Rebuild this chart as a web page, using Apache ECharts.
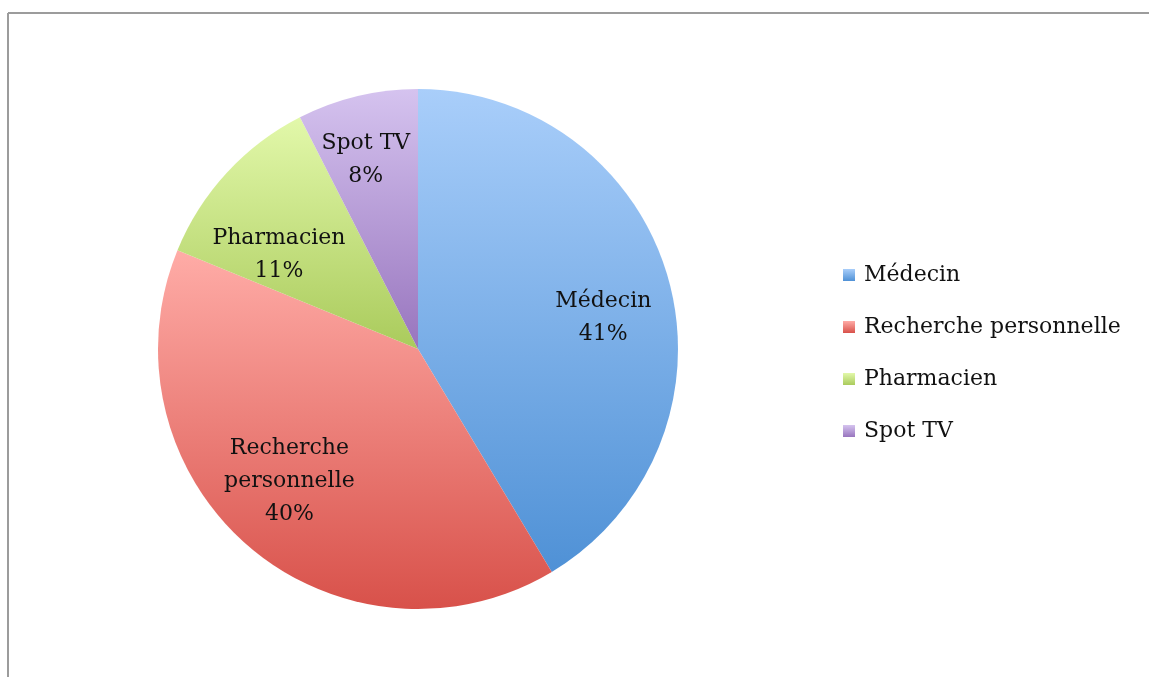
<!DOCTYPE html>
<html>
<head>
    <meta charset="utf-8">
    <title>Pie</title>
    <script src="https://cdn.jsdelivr.net/npm/echarts@6/dist/echarts.min.js"></script>
    <style>
        html, body {margin: 0; padding: 0; background: #fff;}
        #main {width: 1149px; height: 677px;}
    </style>
</head>
<body>
<div id="main"></div>
<script type="text/javascript">
    // data
    var names = ['Médecin', 'Recherche personnelle', 'Pharmacien', 'Spot TV'];
    var values = [41.4, 39.8, 11.3, 7.5];
    var topColors = ['#a9cefa', '#ffaca7', '#e2f8aa', '#d5c3ef'];
    var bottomColors = ['#4f91d6', '#d8514a', '#aacb5c', '#9875be'];

    // small nudges so labels sit where the original put them
    var labelShift = [[7, 18], [-8, -8], [-3, 31], [-9, -9]];

    var chartDom = document.getElementById('main');
    var myChart = echarts.init(chartDom);

    var pieData = [];
    var labelData = [];
    for (let i = 0; i < names.length; i++) {
        pieData.push({
            name: names[i],
            value: values[i],
            itemStyle: {
                color: new echarts.graphic.LinearGradient(0, 0, 0, 1, [
                    {offset: 0, color: topColors[i]},
                    {offset: 1, color: bottomColors[i]}
                ])
            }
        });
        labelData.push({name: names[i], value: values[i]});
    }

    var font = '"DejaVu Serif", serif';

    var option = {
        animation: false,
        graphic: [
            {type: 'line', shape: {x1: 8, y1: 13, x2: 1149, y2: 13}, style: {stroke: '#9c9c9c', lineWidth: 2}},
            {type: 'line', shape: {x1: 8, y1: 13, x2: 8, y2: 677}, style: {stroke: '#9c9c9c', lineWidth: 2}}
        ],
        legend: {
            orient: 'vertical',
            left: 838,
            top: 259,
            itemWidth: 12,
            itemHeight: 12,
            itemGap: 30,
            icon: 'rect',
            data: names,
            textStyle: {fontFamily: font, fontSize: 22, color: '#111', lineHeight: 22, padding: [0, 0, 0, 4]}
        },
        series: [
            {
                type: 'pie',
                center: [418, 349],
                radius: [0, 260],
                startAngle: 90,
                clockwise: true,
                label: {show: false},
                labelLine: {show: false},
                emphasis: {disabled: true},
                data: pieData
            },
            {
                // transparent ring only used to put labels at ~0.7 r
                type: 'pie',
                center: [418, 349],
                radius: [104, 260],
                startAngle: 90,
                clockwise: true,
                silent: true,
                legendHoverLink: false,
                itemStyle: {color: 'rgba(0,0,0,0)'},
                emphasis: {disabled: true},
                labelLine: {show: false},
                label: {
                    show: true,
                    position: 'inside',
                    fontFamily: font,
                    fontSize: 22,
                    lineHeight: 33,
                    color: '#111',
                    align: 'center',
                    formatter: function (p) {
                        var n = p.name === 'Recherche personnelle' ? p.name.replace(' ', '\n') : p.name;
                        return n + '\n' + Math.round(p.percent) + '%';
                    }
                },
                labelLayout: function (params) {
                    var s = labelShift[params.dataIndex];
                    return {dx: s[0], dy: s[1]};
                },
                data: labelData
            }
        ]
    };

    option && myChart.setOption(option);
</script>
</body>
</html>
